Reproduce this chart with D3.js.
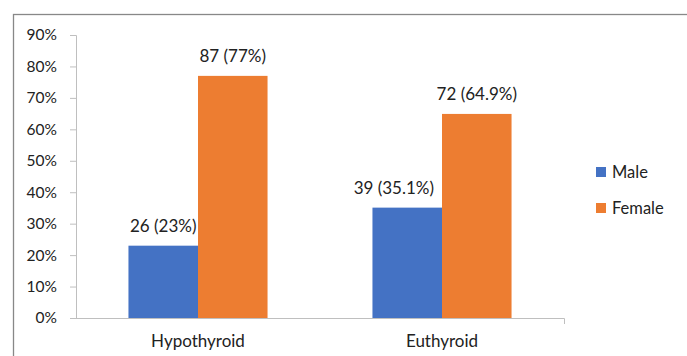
<!DOCTYPE html>
<html><head><meta charset="utf-8">
<script src="https://cdn.jsdelivr.net/npm/d3@7"></script>
<style>body{margin:0;background:#fff}svg{display:block;font-family:Lato,"Open Sans",sans-serif}</style>
</head><body><svg id="c" width="687" height="356"></svg>
<script>
const categories = ["Hypothyroid", "Euthyroid"];
const seriesNames = ["Male", "Female"];
const malePct = [23, 35.1];
const femalePct = [77, 64.9];
const maleLabels = ["26 (23%)", "39 (35.1%)"];
const femaleLabels = ["87 (77%)", "72 (64.9%)"];
const yTicks = [0, 10, 20, 30, 40, 50, 60, 70, 80, 90];
const colors = ["#4472c4", "#ed7d31"];

const svg = d3.select("#c");
// outer frame
svg.append("rect").attr("x", 13.5).attr("y", 14.5).attr("width", 700).attr("height", 400)
  .attr("fill", "none").attr("stroke", "#888").attr("stroke-width", 1.3);

const pLeft = 76, pRight = 564, pTop = 35, pBottom = 318;
const x0 = d3.scaleBand().domain(categories).range([pLeft, pRight]).paddingInner(0.43).paddingOuter(0.215);
const x1 = d3.scaleBand().domain(seriesNames).range([0, x0.bandwidth()]);
const y = d3.scaleLinear().domain([0, 90]).range([pBottom, pTop]);

const yAxis = svg.append("g").attr("transform", `translate(${pLeft},0)`)
  .call(d3.axisLeft(y).tickValues(yTicks).tickFormat(d => d + "%").tickSize(6).tickPadding(13));
yAxis.select(".domain").attr("stroke", "#bfbfbf").attr("d", `M-6,${pTop+0.5}H0.5V${pBottom+0.5}`);
yAxis.selectAll(".tick line").attr("stroke", "#bfbfbf");
yAxis.selectAll("text").attr("font-size", 15.5).attr("fill", "#222").attr("font-family", "Lato");

const xAxis = svg.append("g").attr("transform", `translate(0,${pBottom})`)
  .call(d3.axisBottom(x0).tickSize(0).tickPadding(17));
xAxis.select(".domain").attr("stroke", "#bfbfbf").attr("d", `M${pLeft},0.5H${pRight+0.5}V6`);
xAxis.selectAll("text").attr("font-size", 17).attr("fill", "#222").attr("font-family", "Lato");

const data = categories.map((c, i) => ({c, vals: [
  {s: "Male", v: malePct[i], l: maleLabels[i]},
  {s: "Female", v: femalePct[i], l: femaleLabels[i]}]}));

const g = svg.selectAll(".cat").data(data).enter().append("g")
  .attr("transform", d => `translate(${x0(d.c)},0)`);
g.selectAll("rect").data(d => d.vals).enter().append("rect")
  .attr("x", d => x1(d.s)).attr("width", x1.bandwidth())
  .attr("y", d => y(d.v)).attr("height", d => pBottom - y(d.v))
  .attr("fill", (d, i) => colors[i]);
g.selectAll("text").data(d => d.vals).enter().append("text")
  .attr("x", d => x1(d.s) + x1.bandwidth() / 2).attr("y", d => y(d.v) - 14)
  .attr("text-anchor", "middle").attr("font-size", 17).attr("fill", "#222")
  .text(d => d.l)
  .each(function(d) {
    // if a male label is wider than its bar, keep it clear of the taller neighbour bar
    const w = this.getComputedTextLength();
    if (d.s === "Male" && w > x1.bandwidth()) {
      d3.select(this).attr("text-anchor", "end").attr("x", x1(d.s) + x1.bandwidth() - 8);
    }
  });

const lg = svg.append("g").selectAll("g").data(seriesNames).enter().append("g")
  .attr("transform", (d, i) => `translate(596,${167 + i * 36})`);
lg.append("rect").attr("width", 10).attr("height", 10).attr("fill", (d, i) => colors[i]);
lg.append("text").attr("x", 16).attr("y", 5).attr("dy", "0.35em").attr("font-size", 16.5)
  .attr("fill", "#222").text(d => d);
</script></body></html>
